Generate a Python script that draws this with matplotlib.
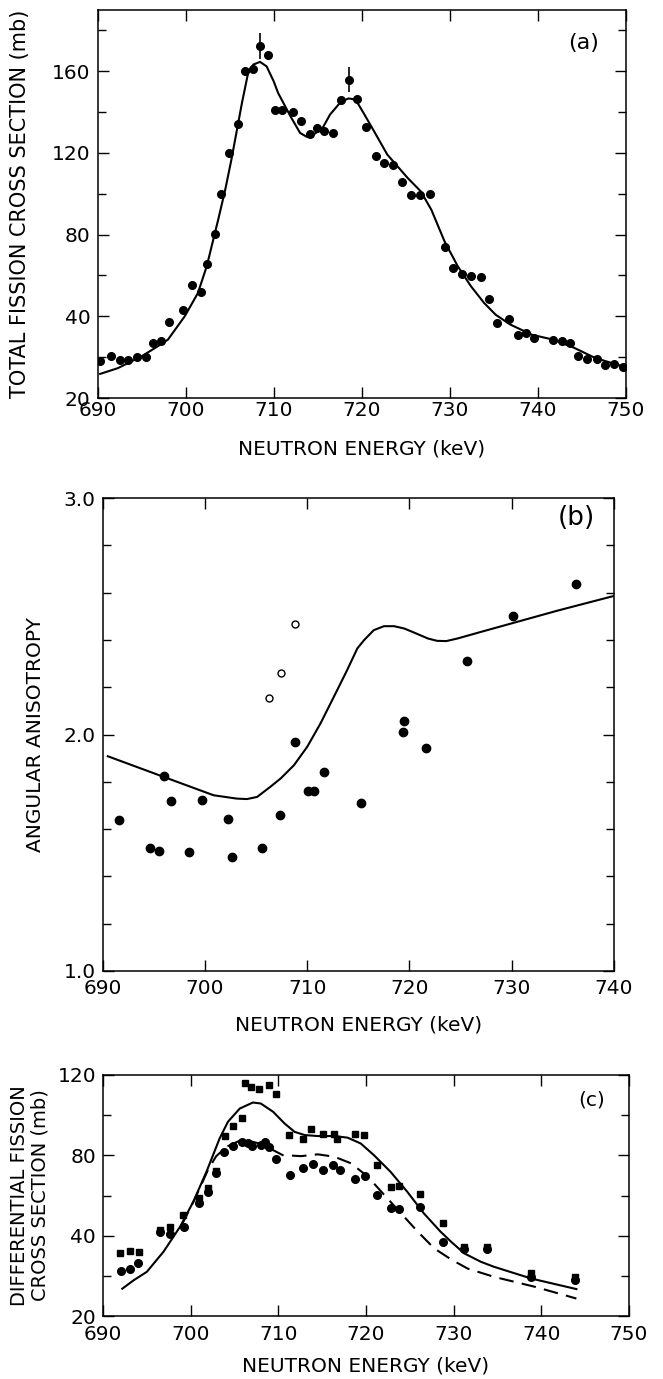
import numpy as np
import matplotlib
matplotlib.use("Agg")
import matplotlib.pyplot as plt

plt.rcParams['font.family'] = ['DejaVu Sans']

# ---------------- Panel (a): total fission cross section ----------------
a_energy = [690.3, 691.5, 692.5, 693.5, 694.5, 695.5, 696.3, 697.2, 698.1, 699.7,
            700.7, 701.7, 702.4, 703.3, 704.0, 704.9, 705.9, 706.8, 707.7, 708.5,
            709.4, 710.2, 711.0, 712.2, 713.1, 714.1, 714.9, 715.7, 716.7, 717.6,
            718.6, 719.5, 720.5, 721.6, 722.5, 723.5, 724.6, 725.6, 726.6, 727.7,
            729.5, 730.4, 731.4, 732.4, 733.5, 734.4, 735.4, 736.7, 737.7, 738.6,
            739.6, 741.7, 742.7, 743.6, 744.6, 745.6, 746.7, 747.6, 748.6, 749.7]
a_sigma = [29.0, 30.4, 29.4, 29.4, 30.0, 30.0, 33.5, 33.9, 38.5, 43.3,
           55.5, 51.9, 65.6, 80.5, 100.1, 120.0, 134.4, 160.0, 161.1, 172.4,
           168.0, 141.0, 141.0, 139.9, 135.8, 129.3, 132.2, 130.6, 129.8, 146.1,
           155.9, 146.4, 132.7, 118.4, 115.1, 114.3, 105.6, 99.6, 99.6, 100.1,
           73.8, 63.7, 60.9, 59.6, 59.1, 48.5, 38.3, 39.4, 35.5, 35.9,
           34.7, 34.3, 34.0, 33.5, 30.4, 29.6, 29.6, 28.0, 28.3, 27.5]
a_err_energy = [708.5, 718.6]
a_err_sigma = [172.4, 155.9]
a_err_size = [6.5, 6.0]

a_fit_energy = [690.3, 692.3, 695.0, 696.5, 698.0, 699.9, 701.4, 702.4, 703.7, 704.5,
                705.2, 706.4, 707.1, 707.7, 708.45, 709.2, 710.0, 710.5, 711.9, 713.0,
                713.8, 714.5, 715.5, 716.4, 717.6, 718.5, 719.3, 720.2, 721.4, 722.9,
                725.2, 726.7, 727.9, 729.4, 730.9, 732.4, 733.9, 735.2, 736.85, 739.3,
                741.7, 744.1, 746.5, 749.7]
a_fit_sigma = [25.9, 27.3, 30.2, 32.2, 34.3, 40.0, 51.4, 64.5, 87.3, 102.0,
               116.7, 144.5, 159.2, 163.3, 164.6, 162.4, 155.1, 149.4, 138.0, 129.8,
               127.8, 129.0, 131.8, 138.8, 144.9, 146.7, 146.1, 139.6, 130.6, 119.2,
               107.8, 101.2, 92.2, 76.7, 64.5, 54.7, 46.5, 40.8, 38.0, 35.5,
               34.3, 32.3, 29.8, 27.7]

# ---------------- Panel (b): angular anisotropy ----------------
b_energy = [691.6, 694.6, 695.5, 696.0, 696.7, 698.4, 699.7, 702.3, 702.6, 705.6,
            707.3, 708.8, 710.1, 710.7, 711.6, 715.3, 719.4, 719.5, 721.6, 725.6,
            730.1, 736.3]
b_aniso = [1.638, 1.521, 1.507, 1.824, 1.718, 1.504, 1.722, 1.643, 1.481, 1.518,
           1.659, 1.969, 1.759, 1.759, 1.842, 1.711, 2.011, 2.056, 1.945, 2.310,
           2.500, 2.636]
b_open_energy = [706.3, 707.4, 708.8]
b_open_aniso = [2.155, 2.261, 2.469]
b_fit_energy = [690.5, 695.95, 700.85, 703.1, 704.1, 705.1, 706.4, 707.4, 708.7, 710.0,
                711.3, 712.6, 713.9, 714.9, 715.56, 716.5, 717.5, 718.5, 719.5, 720.5,
                721.8, 722.7, 723.6, 724.7, 727.0, 734.5, 740.0]
b_fit_aniso = [1.908, 1.821, 1.743, 1.729, 1.727, 1.736, 1.779, 1.814, 1.870, 1.948,
               2.047, 2.159, 2.272, 2.364, 2.399, 2.441, 2.458, 2.458, 2.448, 2.430,
               2.406, 2.396, 2.395, 2.406, 2.434, 2.524, 2.586]

# ---------------- Panel (c): differential fission cross section ----------------
c_sq_energy = [691.9, 693.1, 694.1, 696.5, 697.6, 699.1, 700.9, 702.0, 702.9, 703.9,
               704.8, 705.8, 706.2, 706.9, 707.8, 708.9, 709.7, 711.2, 712.8, 713.7,
               715.1, 716.3, 716.7, 718.7, 719.8, 721.25, 722.8, 723.8, 726.2, 728.8,
               731.2, 733.8, 738.8, 743.8]
c_sq_sigma = [35.75, 36.25, 36.0, 42.8, 44.5, 50.3, 58.6, 63.5, 72.2, 89.6,
              94.7, 98.7, 115.8, 114.1, 113.0, 115.0, 110.3, 90.1, 88.1, 93.1,
              90.7, 90.7, 87.9, 90.7, 89.9, 75.2, 64.4, 64.9, 60.7, 46.5,
              37.2, 37.3, 30.6, 29.6]
c_ci_energy = [692.1, 693.1, 694.0, 696.5, 697.6, 699.2, 700.9, 702.0, 702.9, 703.8,
               704.8, 705.8, 706.5, 707.0, 708.0, 708.5, 708.9, 709.75, 711.3, 712.8,
               714.0, 715.1, 716.25, 717.0, 718.8, 719.9, 721.25, 722.8, 723.8, 726.2,
               728.8, 731.2, 733.8, 738.8, 743.8]
c_ci_sigma = [31.2, 31.7, 33.1, 41.7, 40.8, 44.5, 56.4, 61.9, 71.0, 81.8,
              84.6, 86.4, 85.9, 84.8, 85.1, 86.8, 84.3, 78.2, 70.2, 73.5,
              75.7, 72.7, 75.2, 72.5, 68.0, 69.5, 60.2, 53.9, 53.3, 54.1,
              38.5, 36.8, 36.6, 29.8, 29.0]
c_solid_energy = [692.2, 693.5, 695.0, 696.9, 698.8, 700.3, 701.8, 703.3, 704.25, 705.6,
                  707.1, 708.0, 709.4, 710.7, 711.85, 713.0, 714.5, 716.4, 717.9, 719.4,
                  720.9, 722.8, 724.7, 726.6, 728.5, 729.7, 731.2, 733.1, 734.6, 738.9,
                  744.0]
c_solid_sigma = [26.8, 28.9, 31.0, 36.0, 44.5, 56.9, 71.8, 88.4, 96.7, 103.3,
                 106.3, 105.8, 101.7, 95.9, 91.7, 90.1, 89.6, 89.6, 88.8, 85.9,
                 80.1, 71.8, 61.9, 51.1, 42.0, 38.5, 35.6, 33.5, 32.25, 29.3,
                 26.7]
c_dash_energy = [699.0, 700.5, 702.0, 702.9, 704.1, 705.6, 706.7, 707.85, 709.4, 710.5,
                 712.6, 714.5, 716.4, 718.3, 720.2, 722.1, 724.0, 725.9, 727.8, 729.7,
                 731.6, 734.6, 739.3, 744.0]
c_dash_sigma = [45.5, 58.5, 73.0, 79.5, 84.3, 87.3, 87.1, 85.9, 82.6, 80.1,
                79.6, 80.5, 79.3, 76.0, 69.4, 60.2, 51.1, 42.0, 36.8, 34.1,
                31.8, 29.75, 27.25, 24.35]


# Piecewise-linear ordinate: the 20-40 interval is drawn twice as tall per mb
def fwd(v):
    v = np.asarray(v, dtype=float)
    return np.where(v < 40, 2 * v - 40, v)


def inv(u):
    u = np.asarray(u, dtype=float)
    return np.where(u < 40, (u + 40) / 2, u)


W, H = 663, 1379
fig = plt.figure(figsize=(W / 100, H / 100), dpi=100)


def add_ax(left, right, top, bottom):
    return fig.add_axes([left / W, 1 - bottom / H, (right - left) / W, (bottom - top) / H])


TICK_FS = 14.5
LABEL_FS = 14.5
LW = 1.5


def style(ax, xpad):
    for s in ax.spines.values():
        s.set_linewidth(1.1)
    ax.tick_params(which='both', direction='in', top=True, right=True,
                   width=1.0, labelsize=TICK_FS)
    ax.tick_params(which='major', length=8)
    ax.tick_params(which='minor', length=5.5)
    ax.tick_params(axis='x', which='both', pad=xpad)
    ax.tick_params(axis='y', which='both', pad=5)


# ---- (a)
ax1 = add_ax(97.5, 626, 10, 398)
ax1.set_yscale('function', functions=(fwd, inv))
ax1.plot(a_fit_energy, a_fit_sigma, color='black', lw=LW)
ax1.plot(a_energy, a_sigma, 'o', color='black', ms=5.5)
ax1.errorbar(a_err_energy, a_err_sigma, yerr=a_err_size, fmt='none', ecolor='black', elinewidth=1.2)
ax1.set_xlim(690, 750)
ax1.set_ylim(20, 190)
ax1.set_xticks(np.arange(690, 751, 10))
ax1.set_yticks([20, 40, 80, 120, 160])
ax1.set_yticks([30, 60, 100, 140, 180], minor=True)
ax1.yaxis.set_minor_formatter(matplotlib.ticker.NullFormatter())
style(ax1, 2.5)
ax1.set_xlabel('NEUTRON ENERGY (keV)', fontsize=LABEL_FS)
ax1.set_ylabel('TOTAL FISSION CROSS SECTION (mb)', fontsize=15)
ax1.xaxis.set_label_coords(0.5, -0.108)
ax1.yaxis.set_label_coords(-0.128, 0.5)
ax1.text(0.92, 0.915, '(a)', transform=ax1.transAxes, fontsize=16, ha='center', va='center')

# ---- (b)
ax2 = add_ax(102.7, 614, 498, 971)
ax2.plot(b_fit_energy, b_fit_aniso, color='black', lw=LW)
ax2.plot(b_energy, b_aniso, 'o', color='black', ms=6)
ax2.plot(b_open_energy, b_open_aniso, 'o', mfc='white', mec='black', mew=1.0, ms=5)
ax2.set_xlim(690, 740)
ax2.set_ylim(1.0, 3.0)
ax2.set_xticks(np.arange(690, 741, 10))
ax2.set_yticks([1.0, 2.0, 3.0])
ax2.set_yticklabels(['1.0', '2.0', '3.0'])
ax2.set_yticks(np.arange(1.2, 2.95, 0.2), minor=True)
style(ax2, 6)
ax2.set_xlabel('NEUTRON ENERGY (keV)', fontsize=LABEL_FS)
ax2.set_ylabel('ANGULAR ANISOTROPY', fontsize=LABEL_FS)
ax2.xaxis.set_label_coords(0.5, -0.095)
ax2.yaxis.set_label_coords(-0.113, 0.5)
ax2.text(0.926, 0.958, '(b)', transform=ax2.transAxes, fontsize=19, ha='center', va='center')

# ---- (c)
ax3 = add_ax(103, 629, 1075, 1316)
ax3.set_yscale('function', functions=(fwd, inv))
ax3.plot(c_solid_energy, c_solid_sigma, color='black', lw=LW)
ax3.plot(c_dash_energy, c_dash_sigma, color='black', lw=LW, dashes=(7, 4))
ax3.plot(c_sq_energy, c_sq_sigma, 's', color='black', ms=5)
ax3.plot(c_ci_energy, c_ci_sigma, 'o', color='black', ms=5.5)
ax3.set_xlim(690, 750)
ax3.set_ylim(20, 120)
ax3.set_xticks(np.arange(690, 751, 10))
ax3.set_yticks([20, 40, 80, 120])
ax3.set_yticks([30, 60, 100], minor=True)
ax3.yaxis.set_minor_formatter(matplotlib.ticker.NullFormatter())
style(ax3, 6.5)
ax3.set_xlabel('NEUTRON ENERGY (keV)', fontsize=LABEL_FS)
ax3.set_ylabel('DIFFERENTIAL FISSION\nCROSS SECTION (mb)', fontsize=14, linespacing=1.1)
ax3.xaxis.set_label_coords(0.5, -0.166)
ax3.yaxis.set_label_coords(-0.101, 0.5)
ax3.text(0.928, 0.896, '(c)', transform=ax3.transAxes, fontsize=14.5, ha='center', va='center')

fig.savefig('out.png', dpi=100)
